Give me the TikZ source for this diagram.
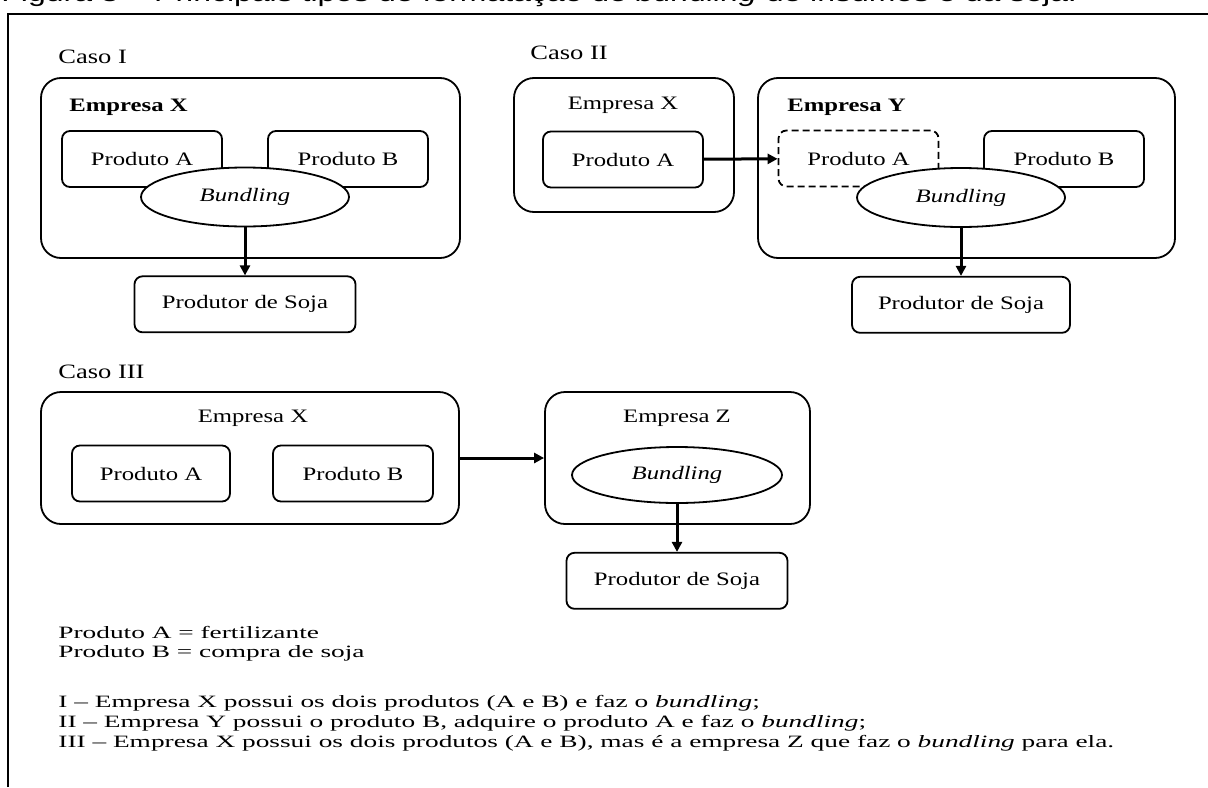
\documentclass[tikz,border=0pt]{standalone}
\usepackage{fontspec}
\setmainfont{Liberation Serif}[FakeStretch=1.3]
\newfontfamily\legendfont{Liberation Serif}[FakeStretch=1.58]
\newfontfamily\figcapfont{Liberation Sans}[FakeStretch=1.3]
\usepackage{tikz}
\usetikzlibrary{shapes.geometric, arrows.meta, positioning}
\newcommand\diagsize{\fontsize{9.5}{11}\selectfont}
\tikzset{
  font=\diagsize,
  empresabox/.style={
    rectangle, draw, rounded corners=10pt, line width=0.9pt, inner sep=0pt
  },
  produtobox/.style={
    rectangle, draw, rounded corners=4pt, line width=0.9pt,
    minimum width=80pt, minimum height=28pt, inner sep=0pt
  },
  bundlingnode/.style={
    ellipse, draw, fill=white, line width=0.9pt, inner sep=0pt,
    minimum width=104pt, minimum height=29.5pt, font=\diagsize\itshape
  },
  casolabel/.style={anchor=west, inner sep=0pt, font=\fontsize{10.2}{12}\selectfont},
  boldlabel/.style={anchor=west, inner sep=0pt, font=\diagsize\bfseries},
  legendline/.style={anchor=base west, inner sep=0pt, font=\legendfont\fontsize{8.65}{10}\selectfont},
  flowline/.style={-{Triangle[length=5pt, width=5pt]}, line width=1.5pt}
}

\begin{document}
\begin{tikzpicture}[x=0.5pt, y=-0.5pt]
  \useasboundingbox (0,0) rectangle (1208,787);
  % caption (cut at the top)
  \node[anchor=base west, inner sep=0pt, font=\figcapfont\fontsize{12.3}{14}\selectfont] (figcap) at (1,2)
    {Figura 3 – Principais tipos de formatação de \textit{bundling} de insumos e da soja.};
  % frame
  \draw[line width=1pt] (8,787) -- (8,14) -- (1208,14);

  % Caso I
  \node[casolabel] (caso1) at (58,57) {Caso I};
  \node[empresabox, minimum width=209.5pt, minimum height=90pt] (emp1) at (250.5,168) {};
  \node[boldlabel] (emp1lbl) at (69,107) {Empresa X};
  \node[produtobox] (prodA1) at (142,159) {Produto A};
  \node[produtobox] (prodB1) at (348,159) {Produto B};
  \node[bundlingnode] (bund1) at (245,197) {Bundling};
  \node[produtobox, minimum width=110.5pt, below=24pt of bund1] (soja1) {Produtor de Soja};
  \draw[flowline] (bund1) -- (soja1);

  % Caso II
  \node[casolabel] (caso2) at (530,53) {Caso II};
  \node[empresabox, minimum width=110pt, minimum height=67pt] (emp2x) at (624,145) {};
  \node (emp2xlbl) at (623,105) {Empresa X};
  \node[produtobox] (prodA2) at (623,159.5) {Produto A};
  \node[empresabox, minimum width=208.5pt, minimum height=90pt] (emp2y) at (966.5,168) {};
  \node[boldlabel] (emp2ylbl) at (787,107) {Empresa Y};
  \node[produtobox, dash pattern=on 3.5pt off 2pt] (prodA2y) at (858.5,158.5) {Produto A};
  \node[produtobox] (prodB2) at (1064,159) {Produto B};
  \node[bundlingnode] (bund2) at (961,197.5) {Bundling};
  \node[produtobox, minimum width=109pt, below=24pt of bund2] (soja2) {Produtor de Soja};
  \draw[flowline] (prodA2) -- (prodA2y);
  \draw[flowline] (bund2) -- (soja2);

  % Caso III
  \node[casolabel] (caso3) at (58,372) {Caso III};
  \node[empresabox, minimum width=209pt, minimum height=66pt] (emp3x) at (250,458) {};
  \node (emp3xlbl) at (253,418) {Empresa X};
  \node[produtobox, minimum width=79pt] (prodA3) at (151,473.5) {Produto A};
  \node[produtobox] (prodB3) at (353,473.5) {Produto B};
  \node[empresabox, minimum width=132.5pt, minimum height=66pt] (emp3z) at (677.5,458) {};
  \node (emp3zlbl) at (677,418) {Empresa Z};
  \node[bundlingnode, minimum width=105pt, minimum height=28pt] (bund3) at (677,475) {Bundling};
  \node[produtobox, minimum width=110.5pt, below=24pt of bund3] (soja3) {Produtor de Soja};
  \draw[flowline] (emp3x) -- (emp3z);
  \draw[flowline] (bund3) -- (soja3);

  % legenda
  \node[legendline] (leg1) at (58,638) {Produto A = fertilizante};
  \node[legendline] (leg2) at (58,657) {Produto B = compra de soja};
  \node[legendline] (leg3) at (58,707) {I – Empresa X possui os dois produtos (A e B) e faz o \textit{bundling};};
  \node[legendline] (leg4) at (58,727) {II – Empresa Y possui o produto B, adquire o produto A e faz o \textit{bundling};};
  \node[legendline] (leg5) at (58,747) {III – Empresa X possui os dois produtos (A e B), mas é a empresa Z que faz o \textit{bundling} para ela.};
\end{tikzpicture}
\end{document}
